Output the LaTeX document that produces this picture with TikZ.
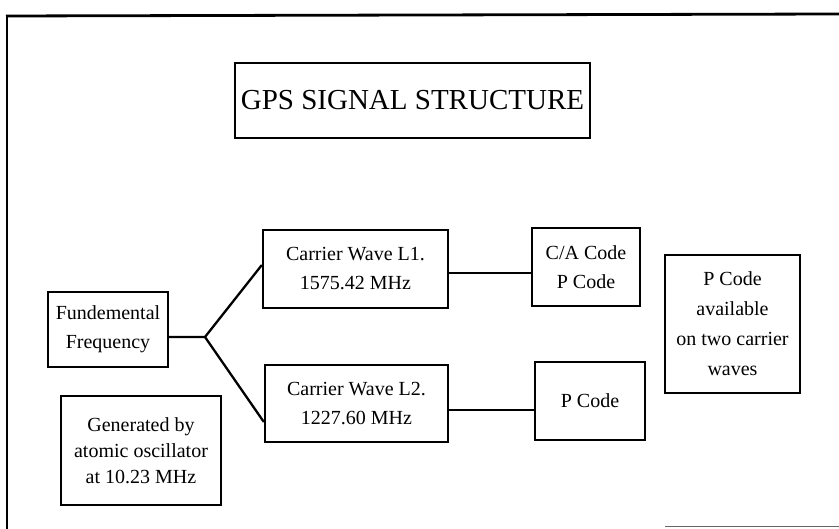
\documentclass[tikz,border=0pt]{standalone}
\usepackage{fontspec}
\setmainfont{Liberation Serif}
\tikzset{
  box/.style={draw, rectangle, line width=2.3pt, inner sep=0pt, align=center,
              font=\fontsize{20}{29}\selectfont},
  link/.style={line width=2.3pt, line join=round},
}
\begin{document}
\begin{tikzpicture}[x=1pt,y=-1pt]
\useasboundingbox (0,0) rectangle (839,529);
\fill[white] (0,0) rectangle (839,529);
% page frame
\draw[line width=2.8pt] (6,16) -- (839,14);
\draw[line width=1.8pt] (7,15) -- (7,529);
\draw[line width=1pt, black!60] (665,527) -- (839,527);
% nodes
\node[box, line width=2.5pt, minimum width=355pt, minimum height=75pt,
      font=\fontsize{29}{30}\selectfont] (title) at (412.5,100.5) {GPS SIGNAL STRUCTURE};
\node[box, minimum width=120pt, minimum height=75pt] (fund) at (108,329.5) {Fundemental\\Frequency};
\node[box, minimum width=185pt, minimum height=78pt] (l1) at (355.5,269) {Carrier Wave L1.\\1575.42 MHz};
\node[box, minimum width=183pt, minimum height=77pt] (l2) at (356.5,403.5) {Carrier Wave L2.\\1227.60 MHz};
\node[box, minimum width=108pt, minimum height=78pt] (ca) at (586,267) {C/A Code\\P Code};
\node[box, minimum width=110pt, minimum height=78pt] (pc) at (590,401) {P Code};
\node[box, minimum width=135pt, minimum height=138pt, font=\fontsize{20}{30}\selectfont] (avail) at (732.5,324) {P Code\\available\\on two carrier\\waves};
\node[box, minimum width=160pt, minimum height=109pt, font=\fontsize{20}{26}\selectfont] (gen) at (141,450.5) {Generated by\\atomic oscillator\\at 10.23 MHz};
% connectors
\coordinate (br) at (205,337);
\coordinate (yu) at (0,265);
\coordinate (yd) at (0,422);
\coordinate (y1) at (0,273);
\coordinate (y2) at (0,410);
\draw[link] (fund.east |- br) -- (br) -- (l1.west |- yu);
\draw[link] (br) -- (l2.west |- yd);
\draw[link] (l1.east |- y1) -- (ca.west |- y1);
\draw[link] (l2.east |- y2) -- (pc.west |- y2);
\end{tikzpicture}
\end{document}
